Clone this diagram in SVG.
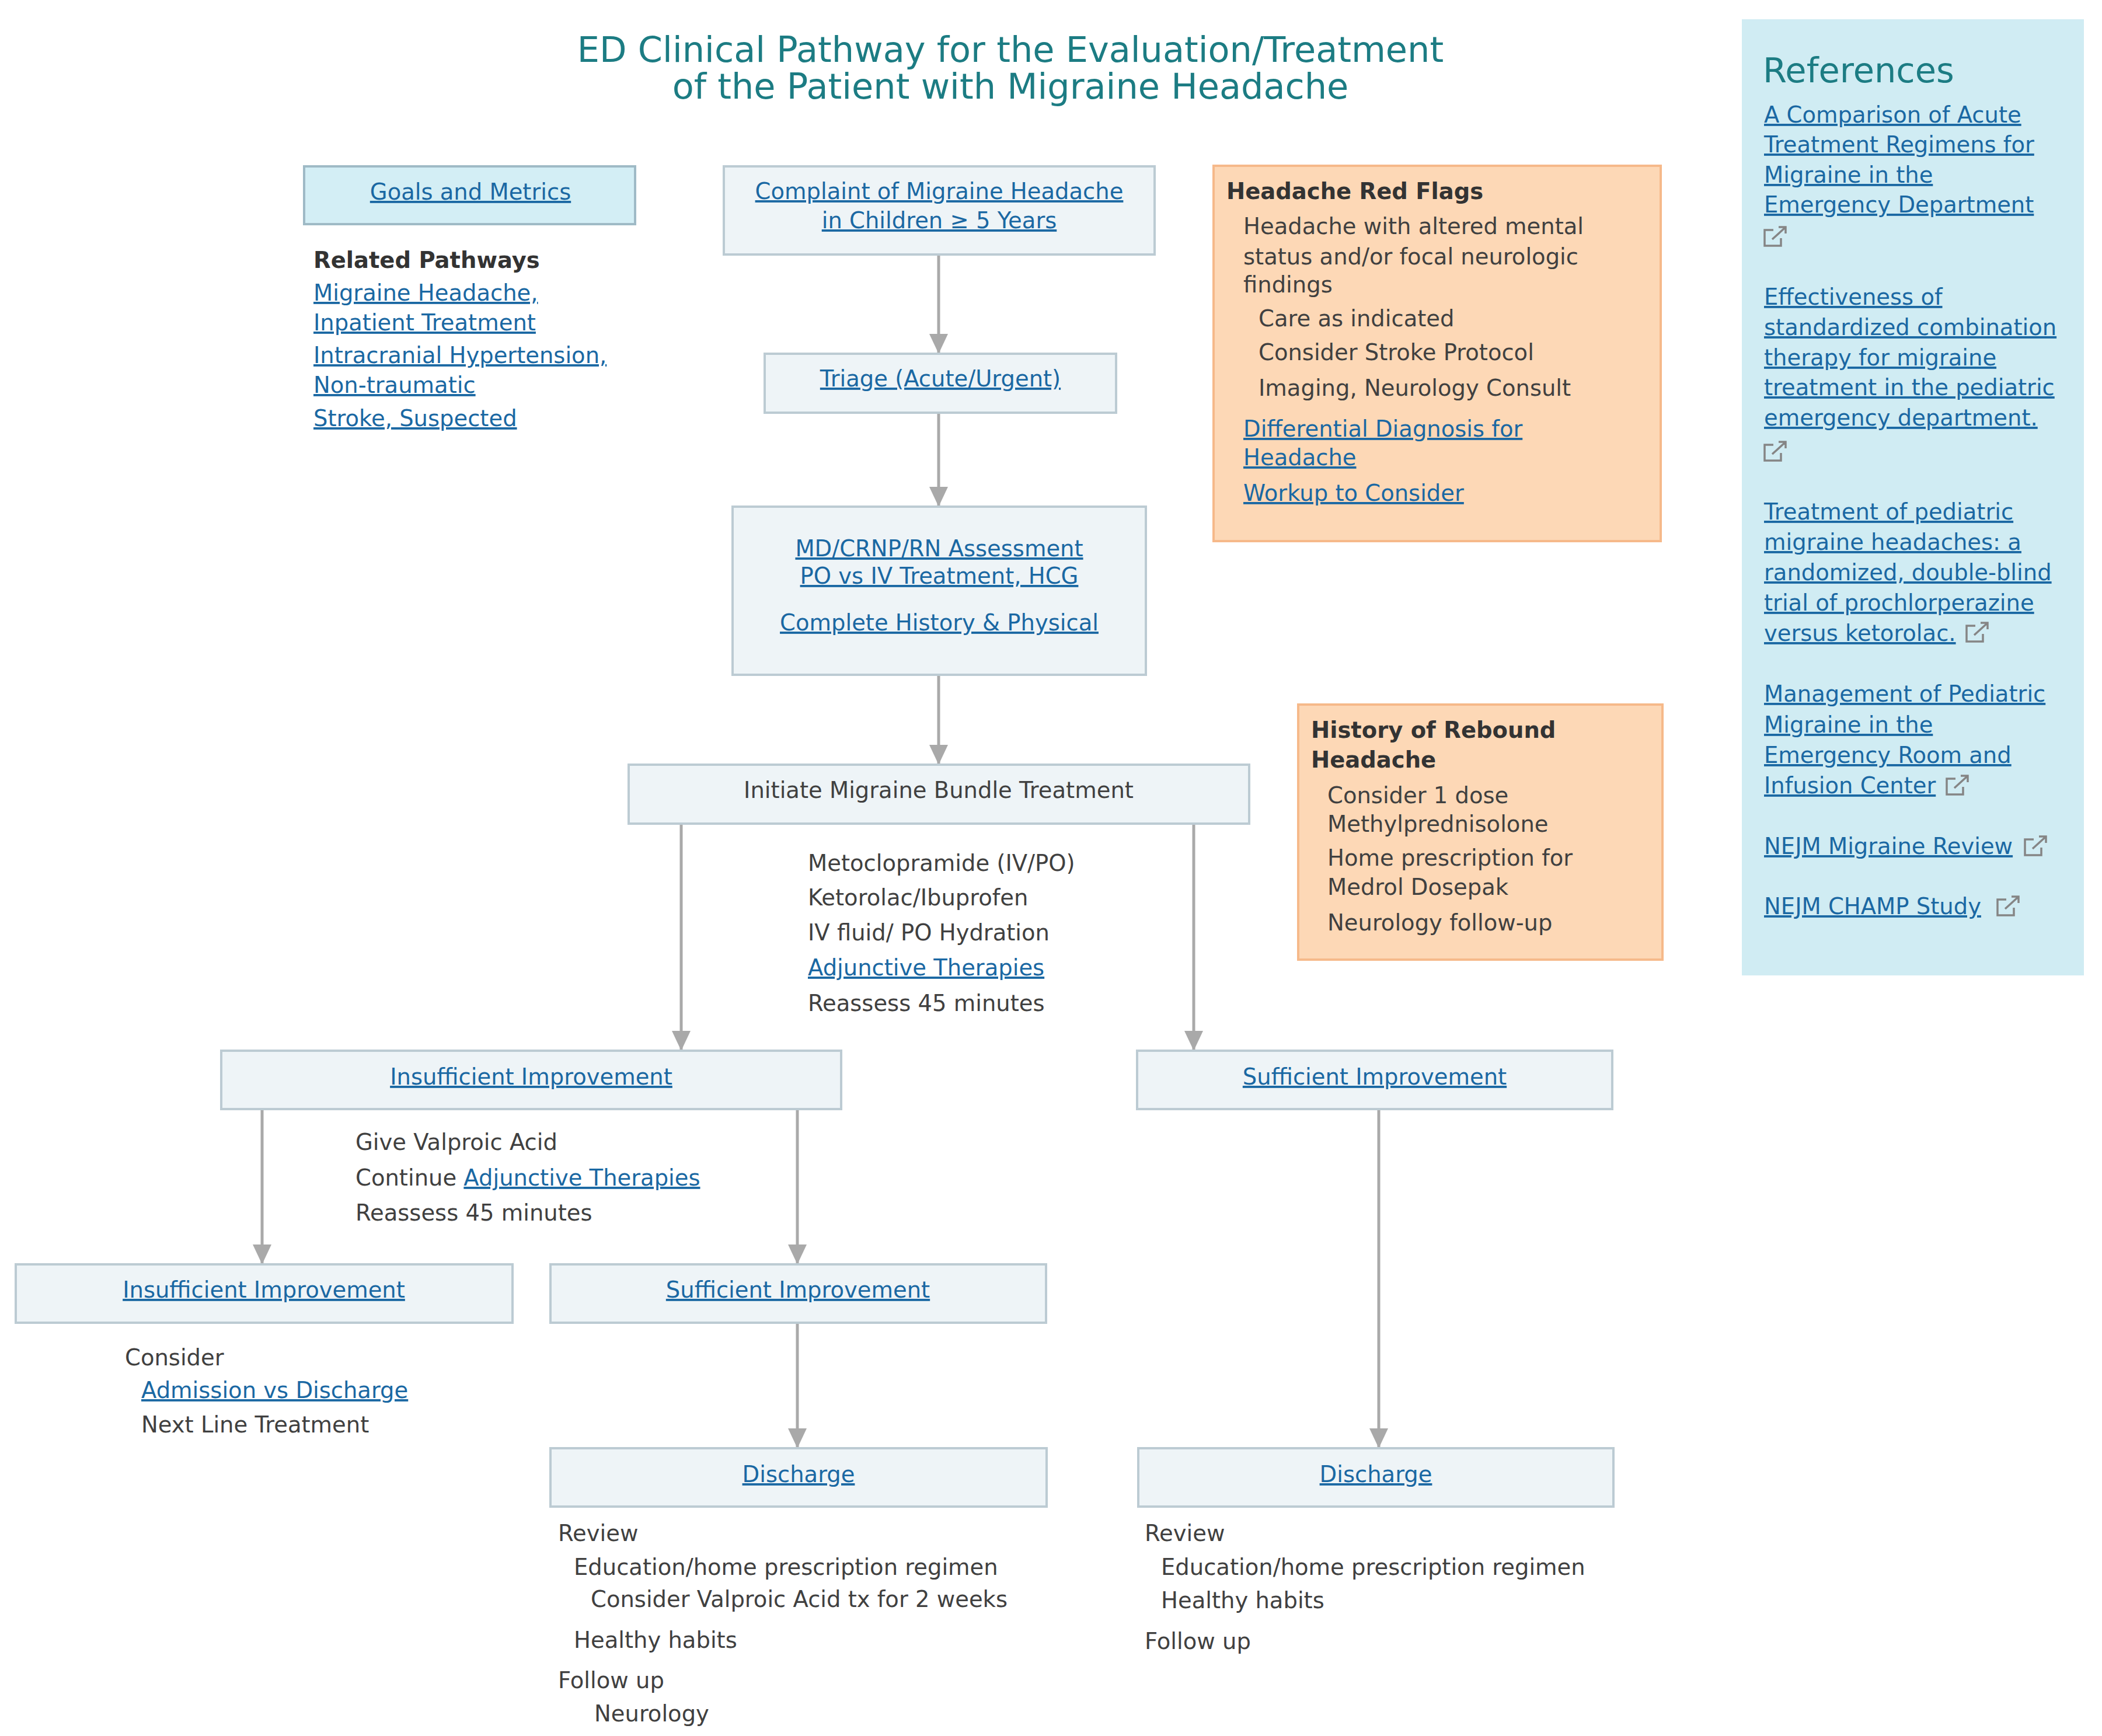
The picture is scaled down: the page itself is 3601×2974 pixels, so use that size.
<svg xmlns="http://www.w3.org/2000/svg" width="3601" height="2974" viewBox="0 0 3601 2974">
<defs>
<style>
text{font-family:"DejaVu Sans",Verdana,"Liberation Sans",sans-serif;font-size:38.5px;fill:#404040}
.title{font-size:60.5px;fill:#1c7c83}
.reftitle{font-size:59px;fill:#1c7c83}
.link{fill:#1a68a3;text-decoration:underline}
.b{font-weight:bold;fill:#333}
.mid{text-anchor:middle}
.box{fill:#eef4f7;stroke:#bccbd3;stroke-width:4}
.goal{fill:#d3eef5;stroke:#9fbac6;stroke-width:4}
.flag{fill:#fdd8b6;stroke:#f6b98a;stroke-width:4}
.refs{fill:#d0ecf3}
.conn{stroke:#a9a9a9;stroke-width:5;fill:none}
.ext{stroke:#858585;stroke-width:3.5;fill:none}
</style>
<marker id="arrd" markerUnits="userSpaceOnUse" markerWidth="36" markerHeight="32" refX="34" refY="16" orient="auto" viewBox="0 0 36 32">
<path d="M0 0 L34 16 L0 32 Z" fill="#a9a9a9"/>
</marker>
</defs>
<rect width="3601" height="2974" fill="#ffffff"/>

<g id="title">
<text class="title mid" x="1731" y="106">ED Clinical Pathway for the Evaluation/Treatment</text>
<text class="title mid" x="1731" y="169">of the Patient with Migraine Headache</text>
</g>

<g id="connectors">
<line class="conn" x1="1608" y1="437" x2="1608" y2="606" marker-end="url(#arrd)"/>
<line class="conn" x1="1608" y1="708" x2="1608" y2="868" marker-end="url(#arrd)"/>
<line class="conn" x1="1608" y1="1157" x2="1608" y2="1310" marker-end="url(#arrd)"/>
<line class="conn" x1="1167" y1="1412" x2="1167" y2="1800" marker-end="url(#arrd)"/>
<line class="conn" x1="2045" y1="1412" x2="2045" y2="1800" marker-end="url(#arrd)"/>
<line class="conn" x1="449" y1="1901" x2="449" y2="2166" marker-end="url(#arrd)"/>
<line class="conn" x1="1366" y1="1901" x2="1366" y2="2166" marker-end="url(#arrd)"/>
<line class="conn" x1="1366" y1="2267" x2="1366" y2="2481" marker-end="url(#arrd)"/>
<line class="conn" x1="2362" y1="1901" x2="2362" y2="2481" marker-end="url(#arrd)"/>
</g>

<g id="goals">
<rect class="goal" x="521" y="285" width="567" height="99"/>
<text class="link mid" x="806" y="342">Goals and Metrics</text>
</g>

<g id="related">
<text class="b" x="537" y="459">Related Pathways</text>
<text class="link" x="537" y="515">Migraine Headache,</text>
<text class="link" x="537" y="566">Inpatient Treatment</text>
<text class="link" x="537" y="622">Intracranial Hypertension,</text>
<text class="link" x="537" y="673">Non-traumatic</text>
<text class="link" x="537" y="730">Stroke, Suspected</text>
</g>

<g id="complaint">
<rect class="box" x="1240" y="285" width="738" height="151"/>
<text class="link mid" x="1609" y="341">Complaint of Migraine Headache</text>
<text class="link mid" x="1609" y="391">in Children ≥ 5 Years</text>
</g>

<g id="triage">
<rect class="box" x="1310" y="606" width="602" height="101"/>
<text class="link mid" x="1611" y="662">Triage (Acute/Urgent)</text>
</g>

<g id="assessment">
<rect class="box" x="1255" y="868" width="708" height="288"/>
<text class="link mid" x="1609" y="953">MD/CRNP/RN Assessment</text>
<text class="link mid" x="1609" y="1000">PO vs IV Treatment, HCG</text>
<text class="link mid" x="1609" y="1080">Complete History &amp; Physical</text>
</g>

<g id="redflags">
<rect class="flag" x="2079" y="284" width="766" height="643"/>
<text class="b" x="2101" y="341">Headache Red Flags</text>
<text x="2130" y="401">Headache with altered mental</text>
<text x="2130" y="453">status and/or focal neurologic</text>
<text x="2130" y="501">findings</text>
<text x="2156" y="559">Care as indicated</text>
<text x="2156" y="617">Consider Stroke Protocol</text>
<text x="2156" y="678">Imaging, Neurology Consult</text>
<text class="link" x="2130" y="748">Differential Diagnosis for</text>
<text class="link" x="2130" y="797">Headache</text>
<text class="link" x="2130" y="858">Workup to Consider</text>
</g>

<g id="references">
<rect class="refs" x="2984" y="33" width="586" height="1638"/>
<text class="reftitle" x="3020" y="141">References</text>
<text class="link" x="3022" y="210">A Comparison of Acute</text>
<text class="link" x="3022" y="261">Treatment Regimens for</text>
<text class="link" x="3022" y="313">Migraine in the</text>
<text class="link" x="3022" y="364">Emergency Department</text>
<path class="ext" d="M3038 394 H3023 V421 H3051 V408 M3036 410 L3058 390 M3047 389 H3059 V400"/>
<text class="link" x="3022" y="522">Effectiveness of</text>
<text class="link" x="3022" y="574">standardized combination</text>
<text class="link" x="3022" y="626">therapy for migraine</text>
<text class="link" x="3022" y="677">treatment in the pediatric</text>
<text class="link" x="3022" y="729">emergency department.</text>
<path class="ext" d="M3038 762 H3023 V789 H3051 V776 M3036 778 L3058 758 M3047 757 H3059 V768"/>
<text class="link" x="3022" y="890">Treatment of pediatric</text>
<text class="link" x="3022" y="942">migraine headaches: a</text>
<text class="link" x="3022" y="994">randomized, double-blind</text>
<text class="link" x="3022" y="1046">trial of prochlorperazine</text>
<text class="link" x="3022" y="1098">versus ketorolac.</text>
<path class="ext" d="M3384 1072 H3369 V1099 H3397 V1086 M3382 1088 L3404 1068 M3393 1067 H3405 V1078"/>
<text class="link" x="3022" y="1202">Management of Pediatric</text>
<text class="link" x="3022" y="1255">Migraine in the</text>
<text class="link" x="3022" y="1307">Emergency Room and</text>
<text class="link" x="3022" y="1359">Infusion Center</text>
<path class="ext" d="M3350 1334 H3335 V1361 H3363 V1348 M3348 1350 L3370 1330 M3359 1329 H3371 V1340"/>
<text class="link" x="3022" y="1463">NEJM Migraine Review</text>
<path class="ext" d="M3484 1438 H3469 V1465 H3497 V1452 M3482 1454 L3504 1434 M3493 1433 H3505 V1444"/>
<text class="link" x="3022" y="1566">NEJM CHAMP Study</text>
<path class="ext" d="M3437 1541 H3422 V1568 H3450 V1555 M3435 1557 L3457 1537 M3446 1536 H3458 V1547"/>
</g>

<g id="initiate">
<rect class="box" x="1077" y="1310" width="1063" height="101"/>
<text class="mid" x="1608" y="1367">Initiate Migraine Bundle Treatment</text>
</g>

<g id="bundle-notes">
<text x="1384" y="1492">Metoclopramide (IV/PO)</text>
<text x="1384" y="1551">Ketorolac/Ibuprofen</text>
<text x="1384" y="1611">IV fluid/ PO Hydration</text>
<text class="link" x="1384" y="1671">Adjunctive Therapies</text>
<text x="1384" y="1732">Reassess 45 minutes</text>
</g>

<g id="rebound">
<rect class="flag" x="2224" y="1207" width="624" height="437"/>
<text class="b" x="2246" y="1264">History of Rebound</text>
<text class="b" x="2246" y="1315">Headache</text>
<text x="2274" y="1376">Consider 1 dose</text>
<text x="2274" y="1425">Methylprednisolone</text>
<text x="2274" y="1483">Home prescription for</text>
<text x="2274" y="1533">Medrol Dosepak</text>
<text x="2274" y="1594">Neurology follow-up</text>
</g>

<g id="insufficient1">
<rect class="box" x="379" y="1800" width="1062" height="100"/>
<text class="link mid" x="910" y="1858">Insufficient Improvement</text>
</g>

<g id="sufficient1">
<rect class="box" x="1948" y="1800" width="814" height="100"/>
<text class="link mid" x="2355" y="1858">Sufficient Improvement</text>
</g>

<g id="valproic-notes">
<text x="609" y="1970">Give Valproic Acid</text>
<text x="609" y="2031">Continue <tspan class="link">Adjunctive Therapies</tspan></text>
<text x="609" y="2091">Reassess 45 minutes</text>
</g>

<g id="insufficient2">
<rect class="box" x="27" y="2166" width="851" height="100"/>
<text class="link mid" x="452" y="2223">Insufficient Improvement</text>
</g>

<g id="consider-notes">
<text x="214" y="2339">Consider</text>
<text class="link" x="242" y="2395">Admission vs Discharge</text>
<text x="242" y="2454">Next Line Treatment</text>
</g>

<g id="sufficient2">
<rect class="box" x="943" y="2166" width="849" height="100"/>
<text class="link mid" x="1367" y="2223">Sufficient Improvement</text>
</g>

<g id="discharge1">
<rect class="box" x="943" y="2481" width="850" height="100"/>
<text class="link mid" x="1368" y="2539">Discharge</text>
</g>

<g id="discharge1-notes">
<text x="956" y="2640">Review</text>
<text x="983" y="2698">Education/home prescription regimen</text>
<text x="1012" y="2753">Consider Valproic Acid tx for 2 weeks</text>
<text x="983" y="2823">Healthy habits</text>
<text x="956" y="2892">Follow up</text>
<text x="1018" y="2949">Neurology</text>
</g>

<g id="discharge2">
<rect class="box" x="1950" y="2481" width="814" height="100"/>
<text class="link mid" x="2357" y="2539">Discharge</text>
</g>

<g id="discharge2-notes">
<text x="1961" y="2640">Review</text>
<text x="1989" y="2698">Education/home prescription regimen</text>
<text x="1989" y="2755">Healthy habits</text>
<text x="1961" y="2825">Follow up</text>
</g>
</svg>
